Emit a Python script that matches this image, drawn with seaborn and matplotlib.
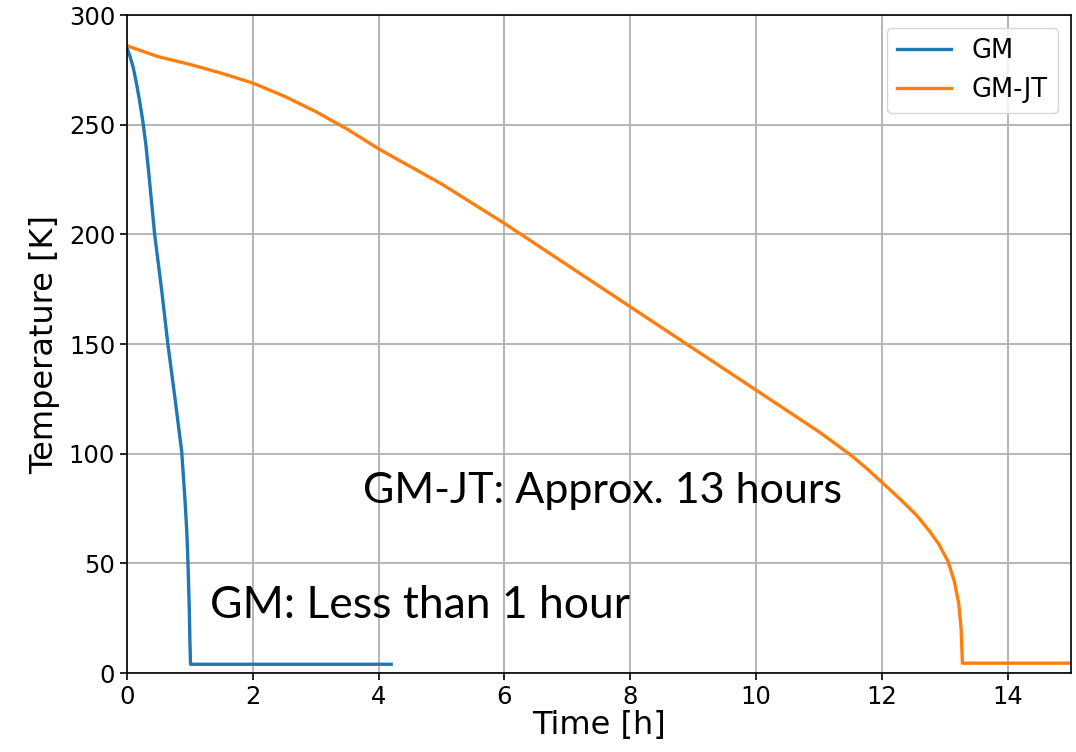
import matplotlib
matplotlib.use("Agg")
import matplotlib.pyplot as plt
import seaborn as sns
import pandas as pd

# GM series
gm_time = [0.0, 0.05, 0.1, 0.15, 0.2, 0.25, 0.3, 0.35, 0.4, 0.44, 0.55, 0.65, 0.76, 0.87, 0.92, 0.95, 0.97, 0.99, 1.0, 1.01, 1.5, 2.0, 2.5, 3.0, 3.5, 4.0, 4.2]
gm_temp = [285, 281, 276, 269, 261, 252, 241, 227, 212, 200, 175, 150, 126, 101, 80, 65, 50, 30, 15, 4, 4, 4, 4, 4, 4, 4, 4]

# GM-JT series
jt_time = [0.0, 0.5, 1.0, 1.5, 2.0, 2.5, 3.0, 3.5, 4.0, 5.0, 6.0, 7.0, 8.0, 9.0, 10.0, 10.5, 11.0, 11.5, 11.75, 12.0, 12.3, 12.55, 12.75, 12.9, 13.05, 13.15, 13.22, 13.26, 13.28, 13.5, 14.0, 15.0]
jt_temp = [286, 281, 277.5, 273.5, 269, 263, 256, 248, 239, 223, 205, 186, 167, 148, 129, 119.5, 110, 99.5, 93.5, 87, 79, 72, 65, 59, 51, 42, 32, 20, 4.5, 4.5, 4.5, 4.5]

df = pd.concat([
    pd.DataFrame({"Time": gm_time, "Temp": gm_temp, "Series": "GM"}),
    pd.DataFrame({"Time": jt_time, "Temp": jt_temp, "Series": "GM-JT"}),
])

plt.rcParams["font.family"] = ["DejaVu Sans"]

fig = plt.figure(figsize=(10.76, 7.52), dpi=100)
ax = fig.add_axes([0.118, 0.105, 0.877, 0.875])
sns.lineplot(data=df, x="Time", y="Temp", hue="Series", sort=False,
             palette=["#1f77b4", "#ff7f0e"], linewidth=2.4, ax=ax)

ax.set_xlim(0, 15)
ax.set_ylim(0, 300)
ax.set_xticks([0, 2, 4, 6, 8, 10, 12, 14])
ax.set_yticks([0, 50, 100, 150, 200, 250, 300])
ax.tick_params(labelsize=17.5, width=1.2, length=5)
for s in ax.spines.values():
    s.set_linewidth(1.2)
ax.grid(True, color="#b0b0b0", linewidth=1.3)
ax.set_axisbelow(True)
ax.set_xlabel("Time [h]", fontsize=23, labelpad=1)
ax.set_ylabel("Temperature [K]", fontsize=23, labelpad=6)

leg = ax.legend(loc="upper right", fontsize=18.5, handlelength=2.1)

ax.text(3.75, 83, "GM-JT: Approx. 13 hours", fontsize=31, family="Lato", va="center")
ax.text(1.32, 31, "GM: Less than 1 hour", fontsize=32, family="Lato", va="center")

fig.savefig("out.png", dpi=100)
